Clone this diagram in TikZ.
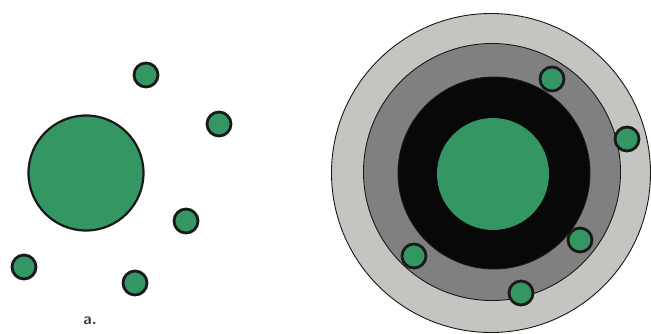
\documentclass[tikz,border=0pt]{standalone}
\usepackage{tikz}
\usetikzlibrary{positioning}
\definecolor{cellGreen}{RGB}{52,150,98}
\definecolor{ringLight}{RGB}{196,196,192}
\definecolor{ringMid}{RGB}{128,128,128}
\definecolor{ringDark}{RGB}{8,8,8}
\definecolor{lineGray}{RGB}{25,25,25}

\begin{document}
\begin{tikzpicture}[
  x=1pt, y=-1pt,
  cell/.style={circle, draw=lineGray, line width=2.8pt, fill=cellGreen,
               inner sep=0pt, minimum size=#1},
  cell/.default=24pt,
  ring/.style={circle, draw=lineGray, line width=0.9pt, fill=#1,
               inner sep=0pt},
  lbl/.style={font=\sffamily\bfseries\fontsize{16}{18}\selectfont, text=lineGray!85}
]
  \useasboundingbox (0,0) rectangle (651,333);
  % left: free cells
  \node[cell=115pt, line width=2.2pt] (big) at (86,173) {};
  \foreach \n/\x/\y in {s1/146/75, s2/219/124, s3/186/221, s4/24/267, s5/135/283}
    \node[cell] (\n) at (\x,\y) {};
  \node[lbl] (labA) at (90,321) {a.};
  % right: layered disc
  \node[ring=ringLight, minimum size=319pt] (outer) at (491,173) {};
  \node[ring=ringMid, minimum size=257pt] (middle) at (492,172) {};
  \node[ring=ringDark, minimum size=192pt] (inner) at (494,173) {};
  \node[circle, fill=cellGreen, inner sep=0pt, minimum size=112pt] (core) at (493,174) {};
  \foreach \n/\x/\y in {r1/552/79, r2/627/139, r3/580/240, r4/414/256, r5/521/293}
    \node[cell] (\n) at (\x,\y) {};
\end{tikzpicture}
\end{document}
